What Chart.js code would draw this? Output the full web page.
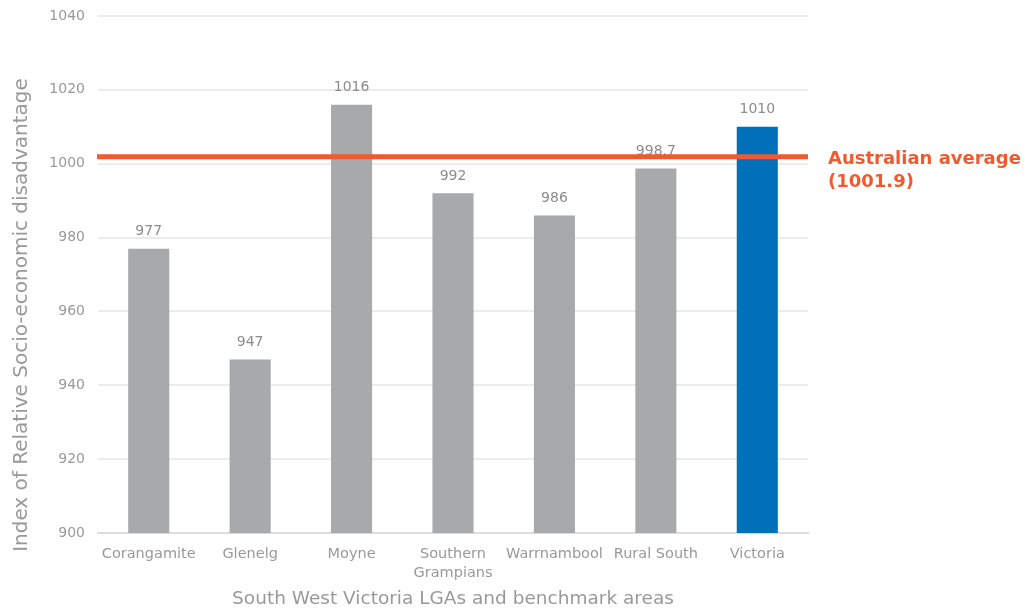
<!DOCTYPE html>
<html>
<head>
<meta charset="utf-8">
<script src="https://cdn.jsdelivr.net/npm/chart.js@4.4.0/dist/chart.umd.min.js"></script>
<style>
  html, body { margin: 0; padding: 0; background: #fff; }
  #wrap { width: 1027px; height: 613px; position: relative; }
</style>
</head>
<body>
<div id="wrap"><canvas id="chart" width="1027" height="613"></canvas></div>
<script>
const categories = ['Corangamite', 'Glenelg', 'Moyne', ['Southern', 'Grampians'], 'Warrnambool', 'Rural South', 'Victoria'];
const indexValues = [977, 947, 1016, 992, 986, 998.7, 1010];
const valueLabels = ['977', '947', '1016', '992', '986', '998.7', '1010'];
const australianAverage = 1001.9;
const avgLabel = ['Australian average', '(1001.9)'];
const yTicks = [900, 920, 940, 960, 980, 1000, 1020, 1040];

const GREY = '#a8a9ab';
const BLUE = '#0070b8';
const ORANGE = '#f05a2e';
const FONT = "'DejaVu Sans', Verdana, sans-serif";

const barColors = categories.map((c, i) => i === categories.length - 1 ? BLUE : GREY);

// value labels above bars, then the average line on top
const overlay = {
    id: 'overlay',
    afterDatasetsDraw(chart) {
        const ctx = chart.ctx;
        const area = chart.chartArea;
        const meta = chart.getDatasetMeta(0);
        ctx.save();
        ctx.font = '14px ' + FONT;
        ctx.fillStyle = '#8c8c8c';
        ctx.textAlign = 'center';
        ctx.textBaseline = 'middle';
        meta.data.forEach((bar, i) => {
            ctx.fillText(valueLabels[i], bar.x, bar.y - 17);
        });

        const yAvg = chart.scales.y.getPixelForValue(australianAverage);
        ctx.strokeStyle = ORANGE;
        ctx.lineWidth = 5;
        ctx.beginPath();
        ctx.moveTo(area.left - 1, yAvg);
        ctx.lineTo(area.right, yAvg);
        ctx.stroke();

        ctx.font = 'bold 18px ' + FONT;
        ctx.fillStyle = ORANGE;
        ctx.textAlign = 'left';
        ctx.fillText(avgLabel[0], area.right + 20, yAvg + 3);
        ctx.fillText(avgLabel[1], area.right + 20, yAvg + 26);
        ctx.restore();
    },
    afterDraw(chart) {
        const ctx = chart.ctx;
        const area = chart.chartArea;
        ctx.save();
        ctx.fillStyle = '#999';
        ctx.textAlign = 'center';
        ctx.textBaseline = 'middle';
        ctx.font = '18.5px ' + FONT;
        ctx.fillText('South West Victoria LGAs and benchmark areas', (area.left + area.right) / 2, 599);
        ctx.translate(22, 315);
        ctx.rotate(-Math.PI / 2);
        ctx.font = '20px ' + FONT;
        ctx.fillText('Index of Relative Socio-economic disadvantage', 0, 0);
        ctx.restore();
    }
};

new Chart(document.getElementById('chart').getContext('2d'), {
    type: 'bar',
    data: {
        labels: categories,
        datasets: [{
            data: indexValues,
            backgroundColor: barColors,
            borderWidth: 0,
            categoryPercentage: 1,
            barPercentage: 0.405
        }]
    },
    options: {
        responsive: false,
        animation: false,
        layout: { padding: { top: 16, right: 219, left: 0, bottom: 0 } },
        plugins: {
            legend: { display: false },
            tooltip: { enabled: false }
        },
        scales: {
            x: {
                grid: { display: false, drawTicks: false },
                border: { color: '#dcdcdc', width: 2 },
                ticks: { color: '#999', font: { family: FONT, size: 14.5, lineHeight: 1.3 }, padding: 12, maxRotation: 0, autoSkip: false },
                afterFit(scale) { scale.height = 80; }
            },
            y: {
                min: 900,
                max: 1040,
                afterBuildTicks(scale) { scale.ticks = yTicks.map(v => ({ value: v })); },
                grid: { color: '#ececec', lineWidth: 2, drawTicks: false },
                border: { display: false },
                ticks: {
                    color: '#999',
                    font: { family: FONT, size: 14 },
                    padding: 13,
                    callback: v => String(v)
                },
                afterFit(scale) {
                    scale.width = 98;
                    scale.paddingTop = 0;
                    scale.paddingBottom = 0;
                }
            }
        }
    },
    plugins: [overlay]
});
</script>
</body>
</html>
